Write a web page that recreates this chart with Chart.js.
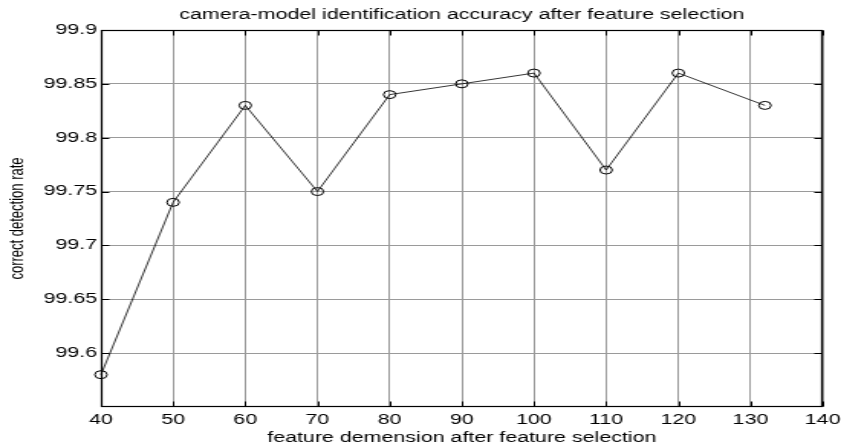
<!DOCTYPE html>
<html>
<head>
<meta charset="utf-8">
<script src="https://cdn.jsdelivr.net/npm/chart.js@4.4.1/dist/chart.umd.min.js"></script>
<style>
  html, body { margin: 0; padding: 0; background: #fff; overflow: hidden; }
  #wrap { width: 841px; height: 447px; overflow: hidden; }
  #c { display: block; width: 550px; height: 447px; transform: scaleX(1.52909); transform-origin: 0 0; }
</style>
</head>
<body>
<div id="wrap"><canvas id="c" width="550" height="447"></canvas></div>
<script>
// ---- data ----
const featureDims = [40, 50, 60, 70, 80, 90, 100, 110, 120, 132];
const detectionRates = [99.58, 99.74, 99.83, 99.75, 99.84, 99.85, 99.86, 99.77, 99.86, 99.83];
const xTicks = [40, 50, 60, 70, 80, 90, 100, 110, 120, 130, 140];
const xTickLabels = ['40', '50', '60', '70', '80', '90', '100', '110', '120', '130', '140'];
const yTicks = [99.6, 99.65, 99.7, 99.75, 99.8, 99.85, 99.9];
const yTickLabels = ['99.6', '99.65', '99.7', '99.75', '99.8', '99.85', '99.9'];
const titleText = 'camera-model identification accuracy after feature selection';
const xTitleText = 'feature demension after feature selection';
const yTitleText = 'correct detection rate';

const FONT = '"Liberation Sans", Arial, Helvetica, sans-serif';

const boxPlugin = {
  id: 'matlabBox',
  afterDraw(chart) {
    const {ctx, chartArea, scales} = chart;
    const L = Math.round(chartArea.left) + 0.5;
    const R = Math.round(chartArea.right) - 0.5;
    const T = Math.round(chartArea.top) + 0.5;
    const B = Math.round(chartArea.bottom) - 0.5;
    ctx.save();
    ctx.strokeStyle = '#000';
    ctx.lineWidth = 1;
    ctx.beginPath();
    const tl = 5;
    xTicks.forEach(v => {
      const px = Math.round(scales.x.getPixelForValue(v)) + 0.5;
      ctx.moveTo(px, B); ctx.lineTo(px, B - tl);
      ctx.moveTo(px, T); ctx.lineTo(px, T + tl);
    });
    yTicks.forEach(v => {
      const py = Math.round(scales.y.getPixelForValue(v)) + 0.5;
      ctx.moveTo(L, py); ctx.lineTo(L + tl, py);
      ctx.moveTo(R, py); ctx.lineTo(R - tl, py);
    });
    ctx.stroke();
    ctx.lineWidth = 1.2;
    ctx.strokeRect(L, T, R - L, B - T);
    ctx.restore();
  }
};

new Chart(document.getElementById('c'), {
  type: 'scatter',
  data: {
    datasets: [{
      data: featureDims.map((d, i) => ({x: d, y: detectionRates[i]})),
      showLine: true,
      borderColor: '#000',
      borderWidth: 0.8,
      pointStyle: 'circle',
      pointRadius: 4,
      pointHoverRadius: 4,
      pointBorderWidth: 1,
      pointBorderColor: '#000',
      pointBackgroundColor: 'rgba(0,0,0,0)',
      clip: false,
      tension: 0
    }]
  },
  plugins: [boxPlugin],
  options: {
    responsive: false,
    animation: false,
    devicePixelRatio: 1,
    events: [],
    layout: { padding: { left: 0, right: 12, top: 0, bottom: 0 } },
    plugins: {
      legend: { display: false },
      tooltip: { enabled: false },
      title: {
        display: true,
        text: titleText,
        fullSize: false,
        color: '#000',
        font: { family: FONT, size: 14, weight: 'normal', lineHeight: 1.2 },
        padding: { top: 7, bottom: 6.2 }
      }
    },
    scales: {
      x: {
        type: 'linear',
        min: 40, max: 140,
        afterBuildTicks: s => { s.ticks = xTicks.map(v => ({value: v})); },
        afterFit: s => { s.height = 40; s.paddingLeft = 0; s.paddingRight = 0; },
        ticks: {
          color: '#000',
          padding: 5,
          maxRotation: 0,
          autoSkip: false,
          font: { family: FONT, size: 14 },
          callback: (v) => { const i = xTicks.indexOf(v); return i >= 0 ? xTickLabels[i] : ''; }
        },
        grid: { color: '#9a9a9a', lineWidth: 1, drawTicks: false },
        border: { display: false },
        title: {
          display: true,
          text: xTitleText,
          color: '#000',
          font: { family: FONT, size: 14, lineHeight: 1.2 },
          padding: { top: 0, bottom: 0 }
        }
      },
      y: {
        type: 'linear',
        min: 99.55, max: 99.9,
        afterBuildTicks: s => { s.ticks = yTicks.map(v => ({value: v})); },
        afterFit: s => { s.width = 66; },
        ticks: {
          color: '#000',
          padding: 2.5,
          autoSkip: false,
          font: { family: FONT, size: 14 },
          callback: (v) => {
            const i = yTicks.findIndex(t => Math.abs(t - v) < 1e-6);
            return i >= 0 ? yTickLabels[i] : '';
          }
        },
        grid: { color: '#9a9a9a', lineWidth: 1, drawTicks: false },
        border: { display: false },
        title: {
          display: true,
          text: yTitleText,
          color: '#000',
          font: { family: FONT, size: 13, lineHeight: 1.2 },
          padding: { top: 3.4, bottom: 0 }
        }
      }
    }
  }
});
</script>
</body>
</html>
